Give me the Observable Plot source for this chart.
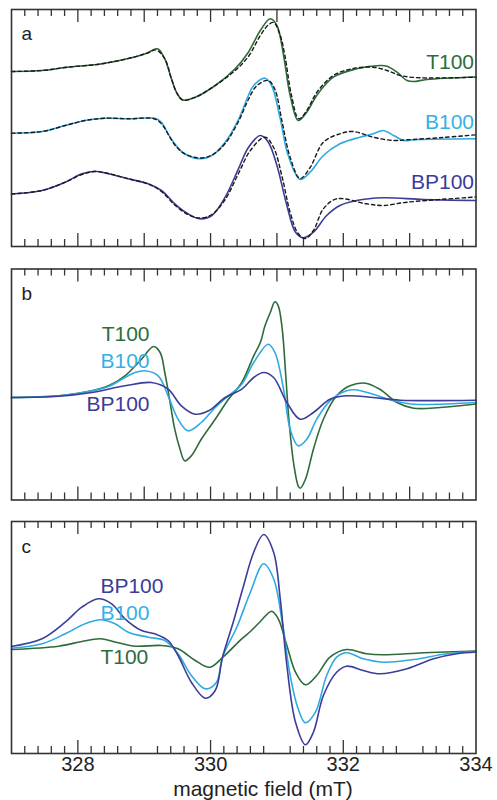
<!DOCTYPE html>
<html><head><meta charset="utf-8">
<script src="https://cdn.jsdelivr.net/npm/d3@7"></script>
<script src="https://cdn.jsdelivr.net/npm/@observablehq/plot@0.6"></script>
<style>
body{margin:0;background:#fff;}
#chart{position:relative;width:497px;height:800px;}
#chart svg{position:absolute;left:0;}
</style></head><body><div id="chart"></div>
<script>
// magnetic field (mT) vs. EPR intensity (arbitrary units, traces offset in panel a)
const seriesNames = ["T100", "B100", "BP100"];

// Panel a: experimental (solid) and simulated (dashed)
const aT100 = [[327.0,176],[327.46,177],[327.84,180.3],[328.34,183.5],[328.84,190.3],[329.04,194.3],[329.2,198.7],[329.31,188.7],[329.41,168.7],[329.49,154.7],[329.58,147.5],[329.77,150.3],[330.07,162],[330.37,178.7],[330.57,195.3],[330.75,217],[330.9,228.7],[331.0,222],[331.1,192],[331.2,152],[331.32,127],[331.45,135.3],[331.6,152],[331.85,170.3],[332.2,178.7],[332.55,182],[332.66,181.3],[332.81,175.3],[332.96,167],[333.06,166],[333.26,168],[334.0,170.5]];
const aT100fit = [[327.0,176],[327.46,177],[327.84,180.3],[328.34,183.5],[328.84,190.3],[329.04,194.3],[329.18,197.5],[329.31,188.7],[329.41,168.7],[329.49,154.7],[329.58,147.5],[329.77,150.3],[330.07,162],[330.37,177],[330.57,191],[330.75,212],[330.87,222.5],[330.95,225],[331.05,212],[331.12,192],[331.22,152],[331.33,128.7],[331.45,137],[331.6,155],[331.85,172],[332.15,179],[332.45,180.3],[332.66,177],[332.86,172],[333.16,169.7],[334.0,170.3]];
const aB100 = [[327.0,114.3],[327.46,116],[327.81,122],[328.11,127],[328.41,129.3],[328.76,128.7],[329.16,129.3],[329.26,125.3],[329.36,113.7],[329.46,103.7],[329.61,93.7],[329.84,88.7],[330.02,92],[330.22,105.3],[330.42,128],[330.57,152],[330.65,162],[330.82,169.3],[330.92,162],[331.05,128.7],[331.17,92],[331.35,68],[331.5,75.3],[331.7,92],[331.95,103.7],[332.25,110.3],[332.45,113.7],[332.6,117],[332.76,112],[332.91,107],[333.06,107.7],[334.0,108.7]];
const aB100fit = [[327.0,114.3],[327.46,116],[327.81,122],[328.11,127],[328.41,129.3],[328.76,128.7],[329.16,128.5],[329.28,122],[329.38,111],[329.48,101],[329.61,93.7],[329.84,89.5],[330.02,92.5],[330.22,104],[330.42,126],[330.57,148],[330.7,162],[330.87,167],[330.97,158],[331.08,125],[331.2,90],[331.35,69],[331.5,80],[331.7,105.3],[331.95,113.7],[332.15,116],[332.45,110.3],[332.76,107],[332.96,107.7],[333.5,110],[334.0,112.7]];
const aBP100 = [[327.0,53.5],[327.46,57],[327.81,65.3],[328.06,73.7],[328.26,76.3],[328.46,73.7],[328.76,68.7],[329.06,63.7],[329.26,57],[329.46,43.7],[329.66,33.7],[329.84,28.7],[330.02,32],[330.22,50.3],[330.42,78.7],[330.57,100],[330.75,112],[330.87,105.3],[331.0,82],[331.15,42],[331.28,15.3],[331.4,9.7],[331.55,15.3],[331.75,32],[331.95,42],[332.2,47],[332.6,49.7],[333.21,48],[334.0,47]];
const aBP100fit = [[327.0,53.5],[327.46,57],[327.81,65.3],[328.06,73],[328.26,76],[328.46,74],[328.76,68.7],[329.06,63.5],[329.26,56],[329.46,42.5],[329.66,33],[329.84,29.5],[330.02,33],[330.22,48],[330.42,74],[330.6,97],[330.82,110.3],[330.95,100],[331.08,70],[331.2,35],[331.32,14],[331.43,9],[331.55,17],[331.7,38.7],[331.9,48.7],[332.35,43.7],[332.6,42],[332.96,45.3],[334.0,50.5]];

// Panel b
const bT100 = [[327.0,0],[327.71,1.7],[328.21,6.7],[328.46,11.7],[328.71,21.7],[328.96,38.3],[329.14,51],[329.24,45],[329.31,25],[329.39,-5],[329.46,-31.7],[329.54,-51.7],[329.61,-63.3],[329.71,-58.3],[329.86,-41.7],[330.07,-21.7],[330.27,-1.7],[330.47,15],[330.65,41.7],[330.75,55],[330.82,71.7],[330.9,85],[330.97,95.7],[331.02,91.7],[331.08,68.3],[331.13,25],[331.18,-21.7],[331.25,-65],[331.32,-88.3],[331.35,-90.7],[331.43,-81.7],[331.55,-51.7],[331.7,-21.7],[331.9,1.7],[332.1,11.7],[332.33,14.3],[332.55,8.3],[332.81,-5],[333.06,-10.7],[333.46,-10],[334.0,-6.5]];
const bB100 = [[327.0,0],[327.71,1.5],[328.21,6.7],[328.46,11],[328.71,20],[328.86,25],[329.01,26.7],[329.21,21.7],[329.36,1.7],[329.51,-21.7],[329.66,-33.3],[329.86,-25],[330.07,-10],[330.27,1.7],[330.47,13.3],[330.65,35],[330.87,53.3],[330.97,45],[331.1,8.3],[331.2,-31.7],[331.32,-48.3],[331.45,-41.7],[331.6,-21.7],[331.8,-3.3],[332.05,6.7],[332.18,7.7],[332.45,3.3],[332.76,-3.3],[333.06,-6.7],[334.0,-5]];
const bBP100 = [[327.0,0],[327.71,1.2],[328.21,5],[328.71,11.7],[329.11,15],[329.36,8.3],[329.56,-8.3],[329.77,-16.7],[329.97,-13.3],[330.22,0],[330.47,8.3],[330.65,20],[330.8,25],[330.95,20],[331.15,-5],[331.35,-21.7],[331.55,-15],[331.8,-1.7],[332.05,1.7],[332.45,0],[332.86,-2.7],[334.0,-2.7]];

// Panel c
const cT100 = [[327.0,-1],[327.71,2.3],[328.06,7],[328.34,9.7],[328.61,5.7],[328.86,2.3],[329.26,3],[329.51,-0.3],[329.77,-12],[329.99,-18.7],[330.18,-9],[330.47,9.7],[330.6,17],[330.75,27],[330.92,37.3],[331.02,29.7],[331.15,3],[331.28,-23.7],[331.43,-36.3],[331.6,-27],[331.8,-8.7],[332.05,-1],[332.35,-5.3],[332.6,-6.3],[333.21,-4.3],[334.0,-2.5]];
const cB100 = [[327.0,0.3],[327.46,4.7],[327.81,14.7],[328.11,24.7],[328.34,28.7],[328.56,24.7],[328.76,16.3],[329.06,11.3],[329.31,8],[329.51,-5.3],[329.71,-27],[329.92,-40.3],[330.09,-33.7],[330.18,-8.7],[330.4,22],[330.6,56.3],[330.8,84.7],[330.95,69.7],[331.08,26.3],[331.2,-27],[331.32,-60.3],[331.43,-74.3],[331.58,-63.7],[331.75,-27],[331.9,-8.7],[332.05,-4.3],[332.3,-10.3],[332.6,-13.7],[333.06,-11],[333.56,-5.3],[334.0,-3]];
const cBP100 = [[327.0,2],[327.46,9.7],[327.81,26.3],[328.06,41.3],[328.31,49.7],[328.51,44.7],[328.71,29.7],[328.96,18],[329.16,14.7],[329.36,8],[329.51,-7],[329.71,-33.7],[329.92,-49.7],[330.07,-42],[330.18,-8.7],[330.34,26],[330.49,61],[330.65,96.3],[330.8,114],[330.95,96.3],[331.05,49.7],[331.15,-17],[331.28,-73.7],[331.43,-96.3],[331.55,-83.7],[331.7,-47],[331.9,-23.7],[332.05,-17.7],[332.3,-22],[332.55,-25.3],[332.96,-20.3],[333.36,-10.3],[333.71,-5.3],[334.0,-3.5]];

const panelLetters = ["a", "b", "c"];
const majorTicksAB = [328, 329, 330, 331, 332, 333];
const majorTicksC = [328, 330, 332];
const tickLabelsC = [328, 330, 332, 334];
const xTitle = "magnetic field (mT)";

const FONT = "'Liberation Sans', Arial, Helvetica, sans-serif";
const colors = {T100: "#2e6b3b", B100: "#2eaae2", BP100: "#3c3d98"};
const labelColors = {T100: "#2b6e3d", B100: "#33b1e6", BP100: "#3b3b9a"};
const minorTicks = d3.range(1, 35).map(i => +(327 + i * 0.2).toFixed(1)).filter(v => !Number.isInteger(v));

function panel({top, height, mt, mb, yDomain, majors, solid, dashed, labels, letter, letterDy, bottomAxis}) {
  const ph = height - mt - mb;
  const marks = [];
  const tickStyle = {stroke: "#333", strokeWidth: 1.3};
  marks.push(Plot.ruleX(minorTicks, {x: d => d, insetBottom: ph - 7, ...tickStyle}));
  marks.push(Plot.ruleX(minorTicks, {x: d => d, insetTop: ph - 7, ...tickStyle}));
  marks.push(Plot.ruleX(majors, {x: d => d, insetBottom: ph - 13, ...tickStyle}));
  marks.push(Plot.ruleX(majors, {x: d => d, insetTop: ph - 13, ...tickStyle}));
  for (const [name, data] of solid) {
    marks.push(Plot.line(data, {x: d => d[0], y: d => d[1], stroke: colors[name], strokeWidth: 1.6, curve: "catmull-rom"}));
  }
  for (const [name, data] of (dashed || [])) {
    marks.push(Plot.line(data, {x: d => d[0], y: d => d[1], stroke: "#1a1a1a", strokeWidth: 1.4, strokeDasharray: "3.5,3", curve: "catmull-rom"}));
  }
  for (const lab of labels) marks.push(lab);
  marks.push(Plot.text([letter], {frameAnchor: "top-left", dx: 10, dy: letterDy, text: d => d, fontSize: 19, fill: "#222", textAnchor: "start", lineAnchor: "middle"}));
  marks.push(Plot.frame({stroke: "#333", strokeWidth: 1.6}));
  if (bottomAxis) marks.push(...bottomAxis);
  const svg = Plot.plot({
    width: 497, height,
    marginLeft: 11, marginRight: 21.5, marginTop: mt, marginBottom: mb,
    x: {domain: [327, 334], axis: null},
    y: {domain: yDomain, axis: null},
    style: {fontFamily: FONT, background: "transparent", overflow: "visible"},
    marks
  });
  svg.style.top = top + "px";
  document.getElementById("chart").appendChild(svg);
}

const lab = (name, opts) => Plot.text([name], {text: d => d, fill: labelColors[name], fontSize: 21, lineAnchor: "middle", ...opts});

// Panel a
panel({
  top: 0, height: 257, mt: 9, mb: 11, yDomain: [1, 238], majors: majorTicksAB,
  solid: [["T100", aT100], ["B100", aB100], ["BP100", aBP100]],
  dashed: [["T100", aT100fit], ["B100", aB100fit], ["BP100", aBP100fit]],
  labels: [
    lab("T100", {frameAnchor: "right", dx: -2, y: 185.3, textAnchor: "end"}),
    lab("B100", {frameAnchor: "right", dx: -2, y: 125.3, textAnchor: "end"}),
    lab("BP100", {frameAnchor: "right", dx: -2, y: 65.3, textAnchor: "end"})
  ],
  letter: panelLetters[0], letterDy: 24
});

// Panel b
panel({
  top: 257, height: 253, mt: 11.5, mb: 10.5, yDomain: [-102.5, 128.5], majors: majorTicksAB,
  solid: [["T100", bT100], ["B100", bB100], ["BP100", bBP100]],
  labels: [
    lab("T100", {x: 329.08, y: 63.3, textAnchor: "end"}),
    lab("B100", {x: 329.08, y: 36, textAnchor: "end"}),
    lab("BP100", {x: 329.08, y: -6.7, textAnchor: "end"})
  ],
  letter: panelLetters[1], letterDy: 24.5
});

// Panel c
panel({
  top: 510, height: 290, mt: 11, mb: 47, yDomain: [-105, 127], majors: majorTicksC,
  solid: [["T100", cT100], ["B100", cB100], ["BP100", cBP100]],
  labels: [
    lab("BP100", {x: 328.34, y: 62, textAnchor: "start"}),
    lab("B100", {x: 328.34, y: 35.7, textAnchor: "start"}),
    lab("T100", {x: 328.34, y: -8.7, textAnchor: "start"})
  ],
  letter: panelLetters[2], letterDy: 25,
  bottomAxis: [
    Plot.axisX(tickLabelsC, {anchor: "bottom", tickSize: 0, tickPadding: 3.5, fontSize: 20, fill: "#222", tickFormat: d => String(d), label: null}),
    Plot.text([xTitle], {x: 330.79, frameAnchor: "bottom", dy: 35.5, text: d => d, fontSize: 21, fill: "#222", lineAnchor: "middle"})
  ]
});
</script></body></html>
